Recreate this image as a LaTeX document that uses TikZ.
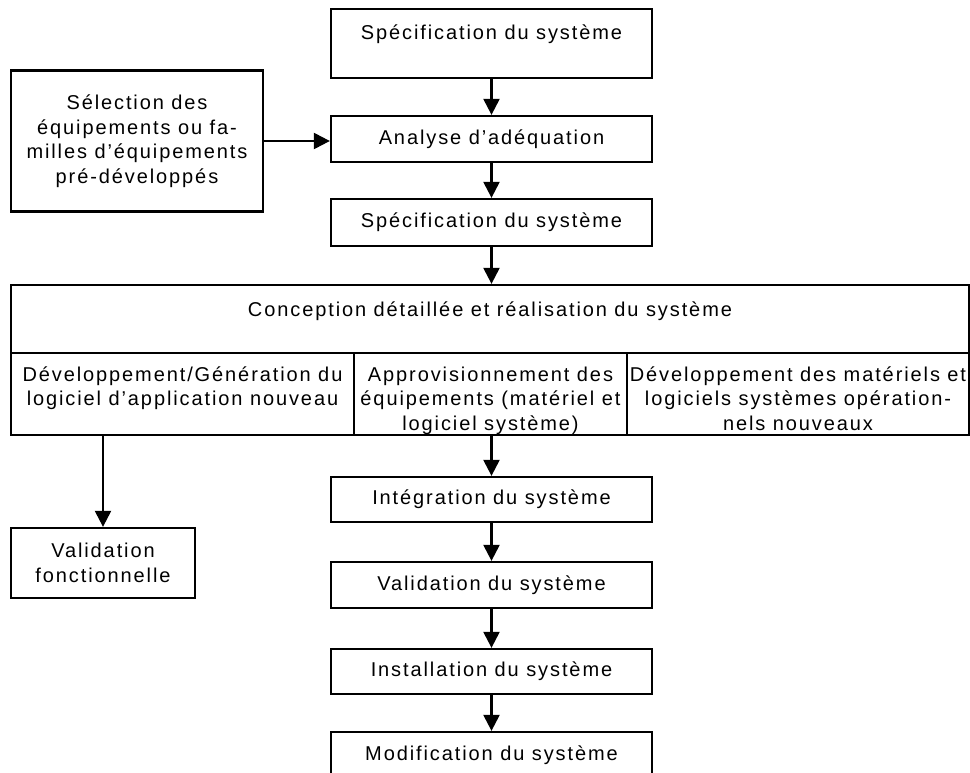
\documentclass[tikz,border=0pt]{standalone}
\usepackage{fontspec}
\setmainfont{Liberation Sans}[LetterSpace=9.5]
\usetikzlibrary{arrows.meta}
\newcommand\fsz{\fontsize{20pt}{24.5pt}\selectfont}
\tikzset{
  box/.style={draw, line width=2.3pt, inner sep=0pt, align=center, font=\fsz},
  txt/.style={inner sep=0pt, align=center, font=\fsz, anchor=north},
  arr/.style={line width=2.3pt, -{Triangle[length=16pt,width=16pt]}},
}
\begin{document}
\begin{tikzpicture}[x=1pt,y=-1pt]
\useasboundingbox (0,0) rectangle (970,773);
\clip (0,0) rectangle (970,773);
% main column
\node[box, minimum width=321pt, minimum height=69pt] (b1) at (491.5,43.5) {};
\node[txt] (t1) at (491.5,21.85) {\strut Spécification du système};
\node[box, minimum width=321pt, minimum height=46pt] (b2) at (491.5,139) {Analyse d’adéquation};
\node[box, minimum width=321pt, minimum height=47pt] (b3) at (491.5,222.5) {Spécification du système};
\node[box, minimum width=252pt, minimum height=141pt] (sel) at (137,141)
  {Sélection des\\équipements ou fa-\\milles d’équipements\\pré-développés};
% big box
\node[box, minimum width=958pt, minimum height=68pt] (ct) at (490,319) {};
\node[txt] (tt) at (490,298.85) {\strut Conception détaillée et réalisation du système};
\node[box, minimum width=343pt, minimum height=82pt] (c1) at (182.5,394) {};
\node[box, minimum width=273pt, minimum height=82pt] (c2) at (490.5,394) {};
\node[box, minimum width=342pt, minimum height=82pt] (c3) at (798,394) {};
\node[txt] (tc1) at (182.5,363.85) {\strut Développement/Génération du\\logiciel d’application nouveau};
\node[txt] (tc2) at (490.5,363.85) {\strut Approvisionnement des\\équipements (matériel et\\logiciel système)};
\node[txt] (tc3) at (798,363.85) {\strut Développement des matériels et\\logiciels systèmes opération-\\nels nouveaux};
% lower
\node[box, minimum width=184pt, minimum height=70pt] (vf) at (103,563) {Validation\\fonctionnelle};
\node[box, minimum width=321pt, minimum height=45pt] (int) at (491.5,499.5) {Intégration du système};
\node[box, minimum width=321pt, minimum height=46pt] (val) at (491.5,585) {Validation du système};
\node[box, minimum width=321pt, minimum height=45pt] (ins) at (491.5,671.5) {Installation du système};
\node[box, minimum width=321pt, minimum height=46pt] (mod) at (491.5,755) {Modification du système};
% arrows
\draw[arr] (b1) -- (b2);
\draw[arr] (b2) -- (b3);
\draw[arr] (sel.east) -- (sel.east -| b2.west);
\draw[arr] (b3.south) -- (b3.south |- ct.north);
\draw[arr] (vf.north |- c1.south) -- (vf.north);
\draw[arr] (int.north |- c2.south) -- (int.north);
\draw[arr] (int) -- (val);
\draw[arr] (val) -- (ins);
\draw[arr] (ins) -- (mod);
\end{tikzpicture}
\end{document}
